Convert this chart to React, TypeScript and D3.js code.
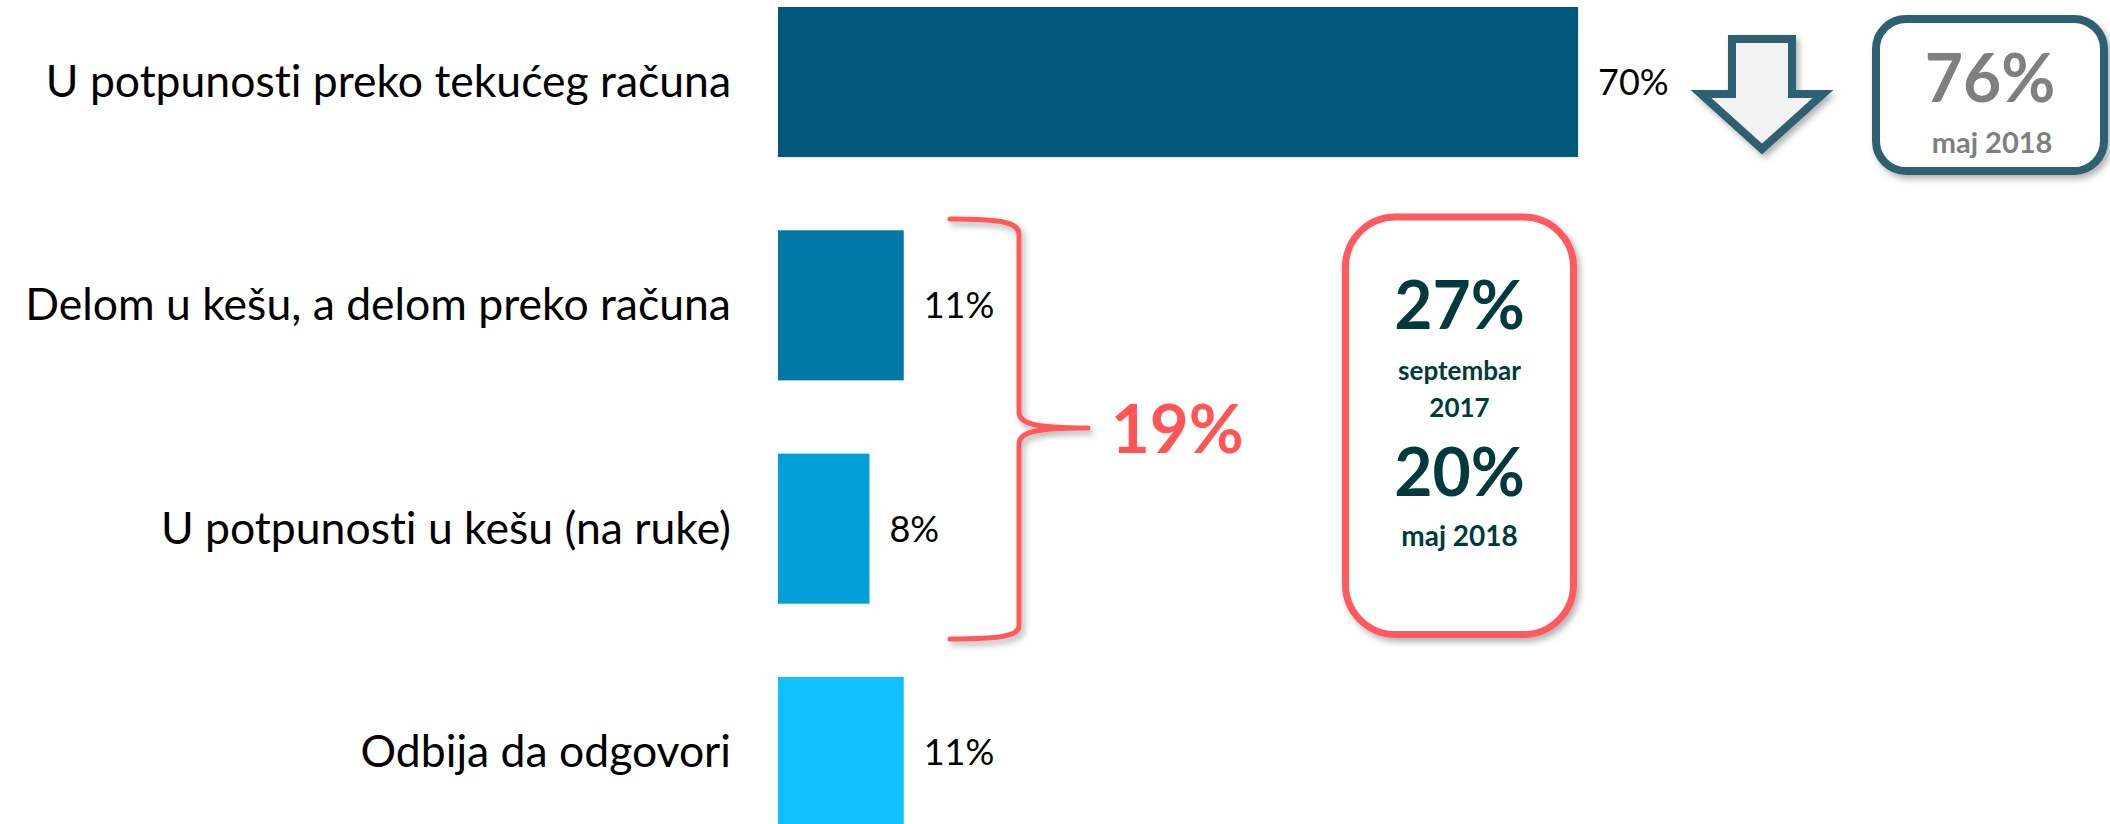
import React, { useEffect } from 'react';
import * as d3 from 'd3';

// categories and shares (%)
const categories = [
  'U potpunosti preko tekućeg računa',
  'Delom u kešu, a delom preko računa',
  'U potpunosti u kešu (na ruke)',
  'Odbija da odgovori',
];
const values = [70, 11, 8, 11];
const barColors = ['#02587A', '#0078A5', '#009FD8', '#10C0FF'];

// callouts
const cashShare = '19%';
const previousAccount = { value: '76%', period: 'maj 2018' };
const previousCash = [
  { value: '27%', period: ['septembar', '2017'] },
  { value: '20%', period: ['maj 2018'] },
];

const W = 2110;
const H = 824;
const FONT = 'Lato, "Open Sans", sans-serif';

const App = () => {
  useEffect(() => {
    document.body.style.margin = '0';
  }, []);

  const x = d3.scaleLinear().domain([0, 100]).range([778, 778 + 1143]);
  const y = d3.scaleBand<string>().domain(categories).range([7, 827]).paddingInner(0.328).paddingOuter(0);
  const bw = y.bandwidth();

  // brace
  const brace = d3.path();
  brace.moveTo(950, 219);
  brace.bezierCurveTo(1000, 219, 1019, 222, 1019, 234);
  brace.lineTo(1019, 412);
  brace.bezierCurveTo(1019, 424, 1035, 428, 1088, 428);
  brace.moveTo(1088, 428);
  brace.bezierCurveTo(1035, 428, 1019, 432, 1019, 444);
  brace.lineTo(1019, 626);
  brace.bezierCurveTo(1019, 636, 1000, 639, 950, 639);

  // down arrow
  const arrowPts: [number, number][] = [
    [1732, 39], [1792, 39], [1792, 94], [1823, 94], [1762, 149], [1701, 94], [1732, 94],
  ];
  const arrow = d3.line()(arrowPts) + 'Z';

  const box1 = { x: 1876, y: 19, w: 228, h: 152 };
  const box2 = { x: 1345.5, y: 217, w: 228, h: 417.5 };
  const box2cx = box2.x + box2.w / 2;

  return (
    <svg width={W} height={H} style={{ display: 'block', fontFamily: FONT, fontVariantLigatures: 'none' }}>
      <defs>
        <filter id="sh" x="-20%" y="-20%" width="140%" height="140%">
          <feDropShadow dx="3" dy="4" stdDeviation="3" floodColor="#000" floodOpacity="0.3" />
        </filter>
      </defs>
      <rect width={W} height={H} fill="#fff" />

      {categories.map((c, i) => (
        <g key={c}>
          <rect x={x(0)} y={y(c)} width={x(values[i]) - x(0)} height={bw} fill={barColors[i]} />
          <text x={731} y={(y(c) as number) + bw / 2 + 15} textAnchor="end" fontSize={44.5} fill="#000">
            {c}
          </text>
          <text x={x(values[i]) + 20} y={(y(c) as number) + bw / 2 + 13} fontSize={36} fill="#000">
            {values[i]}%
          </text>
        </g>
      ))}

      {/* arrow and previous value of account payments */}
      <path d={arrow} fill="#F2F2F2" stroke="#2D6173" strokeWidth={8} strokeLinejoin="miter" filter="url(#sh)" />
      <rect x={box1.x} y={box1.y} width={box1.w} height={box1.h} rx={30} fill="#fff" stroke="#2D6173" strokeWidth={8} filter="url(#sh)" />
      <text x={box1.x + box1.w / 2} y={102} textAnchor="middle" fontSize={66} fontWeight={700} fill="#7F7F7F">
        {previousAccount.value}
      </text>
      <text x={box1.x + box1.w / 2 + 2} y={153} textAnchor="middle" fontSize={29} fontWeight={700} fill="#7F7F7F">
        {previousAccount.period}
      </text>

      {/* brace over cash categories */}
      <path d={brace.toString()} fill="none" stroke="#FF5A5A" strokeWidth={5} strokeLinecap="round" filter="url(#sh)" />
      <text x={1111} y={453} fontSize={67} fontWeight={700} fill="#FF5555">
        {cashShare}
      </text>

      {/* previous cash shares */}
      <rect x={box2.x} y={box2.y} width={box2.w} height={box2.h} rx={50} fill="#fff" stroke="#FF5A5F" strokeWidth={7} filter="url(#sh)" />
      <g fill="#003A3D" textAnchor="middle" fontWeight={700}>
        <text x={box2cx} y={329} fontSize={66}>{previousCash[0].value}</text>
        <text x={box2cx} y={380} fontSize={26}>{previousCash[0].period[0]}</text>
        <text x={box2cx} y={417} fontSize={26}>{previousCash[0].period[1]}</text>
        <text x={box2cx} y={496} fontSize={66}>{previousCash[1].value}</text>
        <text x={box2cx} y={546} fontSize={28}>{previousCash[1].period[0]}</text>
      </g>
    </svg>
  );
};

export default App;
